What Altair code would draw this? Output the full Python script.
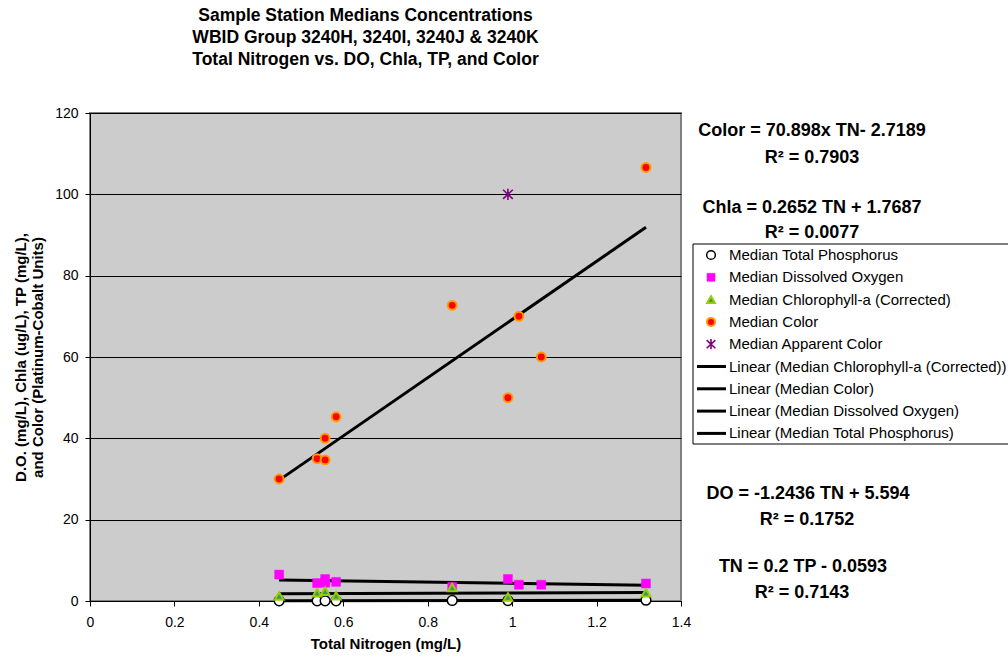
import altair as alt
import pandas as pd

FONT = "Liberation Sans"

# ---------------- data ----------------
tp_tn = [0.448, 0.538, 0.557, 0.583, 0.858, 0.990, 1.317]
tp_val = [0.04, 0.04, 0.06, 0.05, 0.13, 0.12, 0.20]

do_tn = [0.448, 0.538, 0.557, 0.557, 0.583, 0.858, 0.990, 1.016, 1.069, 1.317]
do_val = [6.5, 4.4, 5.4, 4.5, 4.7, 3.5, 5.4, 4.0, 4.0, 4.3]

chla_tn = [0.448, 0.538, 0.557, 0.583, 0.858, 0.990, 1.317]
chla_val = [1.2, 2.0, 2.4, 1.3, 3.3, 1.0, 2.0]

color_tn = [0.448, 0.538, 0.557, 0.557, 0.583, 0.858, 0.990, 1.016, 1.069, 1.317]
color_val = [30.0, 35.0, 40.0, 34.7, 45.3, 72.7, 50.0, 70.0, 60.0, 106.6]

app_tn = [0.990]
app_val = [100.0]

series_names = [
    "Median Total Phosphorus",
    "Median Dissolved Oxygen",
    "Median Chlorophyll-a (Corrected)",
    "Median Color",
    "Median Apparent Color",
]
trend_names = [
    "Linear (Median Chlorophyll-a (Corrected))",
    "Linear (Median Color)",
    "Linear (Median Dissolved Oxygen)",
    "Linear (Median Total Phosphorus)",
]

title_lines = [
    "Sample Station Medians Concentrations",
    "WBID Group 3240H, 3240I, 3240J & 3240K",
    "Total Nitrogen vs. DO, Chla, TP, and Color",
]
x_title = "Total Nitrogen (mg/L)"
y_title = ["D.O. (mg/L), Chla (ug/L), TP (mg/L),", "and Color  (Platinum-Cobalt Units)"]
x_ticks = [0, 0.2, 0.4, 0.6, 0.8, 1.0, 1.2, 1.4]
y_ticks = [0, 20, 40, 60, 80, 100, 120]

eq_texts = [
    "Color = 70.898x TN- 2.7189",
    "R\u00b2 = 0.7903",
    "Chla = 0.2652 TN + 1.7687",
    "R\u00b2 = 0.0077",
    "DO = -1.2436 TN + 5.594",
    "R\u00b2 = 0.1752",
    "TN = 0.2 TP - 0.0593",
    "R\u00b2 = 0.7143",
]

# ---------------- layout / style (pixels) ----------------
W, H = 591, 488
eq_pos = [(722, 18), (722, 45), (722, 95), (722, 120),
          (718, 381), (717, 407), (713, 454), (712, 480)]

star_path = "M0,-1L0,1M-0.85,-0.8L0.85,0.8M-0.85,0.8L0.85,-0.8"
styles = {
    "Median Total Phosphorus": dict(shape="circle", fill="white", stroke="black", strokeWidth=1.5, size=95, filled=True),
    "Median Dissolved Oxygen": dict(shape="square", fill="#FF00FF", stroke="#FF00FF", strokeWidth=0.5, size=80, filled=True),
    "Median Chlorophyll-a (Corrected)": dict(shape="triangle-up", fill="#339966", stroke="#99CC00", strokeWidth=2, size=75, filled=True),
    "Median Color": dict(shape="circle", fill="#FF0000", stroke="#FF9900", strokeWidth=2, size=80, filled=True),
    "Median Apparent Color": dict(shape=star_path, fill=None, stroke="#800080", strokeWidth=1.6, size=130, filled=False),
}


def mk(tn, val):
    return pd.DataFrame({"tn": tn, "val": val})


series_data = {
    "Median Total Phosphorus": mk(tp_tn, tp_val),
    "Median Dissolved Oxygen": mk(do_tn, do_val),
    "Median Chlorophyll-a (Corrected)": mk(chla_tn, chla_val),
    "Median Color": mk(color_tn, color_val),
    "Median Apparent Color": mk(app_tn, app_val),
}
trend_source = {
    "Linear (Median Chlorophyll-a (Corrected))": "Median Chlorophyll-a (Corrected)",
    "Linear (Median Color)": "Median Color",
    "Linear (Median Dissolved Oxygen)": "Median Dissolved Oxygen",
    "Linear (Median Total Phosphorus)": "Median Total Phosphorus",
}

x_enc = alt.X(
    "tn:Q",
    scale=alt.Scale(domain=[0, 1.4], nice=False, zero=False),
    axis=alt.Axis(
        values=x_ticks, format="~g", title=x_title, grid=False, labelFlush=False,
        domainColor="black", domainWidth=1, tickColor="black", tickSize=5,
        labelFont=FONT, labelFontSize=14, labelColor="black", labelPadding=9,
        titleFont=FONT, titleFontSize=15, titleFontWeight="bold", titleColor="black",
        titlePadding=7,
    ),
)
y_enc = alt.Y(
    "val:Q",
    scale=alt.Scale(domain=[0, 120], nice=False),
    axis=alt.Axis(
        values=y_ticks, title=y_title, grid=True, gridColor="black", gridWidth=1,
        labelFlush=False,
        domainColor="black", domainWidth=1, tickColor="black", tickSize=5,
        labelFont=FONT, labelFontSize=14, labelColor="black", labelPadding=7,
        titleFont=FONT, titleFontSize=15, titleFontWeight="bold", titleColor="black",
        titlePadding=9, titleLineHeight=17,
    ),
)

layers = []
# trend lines
for tname in trend_names:
    src = series_data[trend_source[tname]]
    layers.append(
        alt.Chart(src).transform_regression("tn", "val", method="linear")
        .mark_line(color="black", strokeWidth=3)
        .encode(x=x_enc, y=y_enc)
    )
# points
for name in series_names:
    st = styles[name]
    kw = dict(shape=st["shape"], stroke=st["stroke"], strokeWidth=st["strokeWidth"],
              size=st["size"], filled=st["filled"], opacity=1)
    if st["fill"]:
        kw["fill"] = st["fill"]
    layers.append(alt.Chart(series_data[name]).mark_point(**kw).encode(x=x_enc, y=y_enc))

one = alt.Data(values=[{"k": 1}])

# equations
for txt, (px, py) in zip(eq_texts, eq_pos):
    layers.append(
        alt.Chart(one).mark_text(text=txt, font=FONT, fontSize=18, fontWeight="bold",
                                 color="black", align="center", baseline="middle")
        .encode(x=alt.value(px), y=alt.value(py))
    )

# legend box
layers.append(
    alt.Chart(one).mark_rect(fill="white", stroke="black", strokeWidth=1)
    .encode(x=alt.value(603), x2=alt.value(930), y=alt.value(131), y2=alt.value(331))
)
legend_labels = series_names + trend_names
for i, lab in enumerate(legend_labels):
    ry = 142 + i * 22.3
    if lab in styles:
        st = styles[lab]
        kw = dict(shape=st["shape"], stroke=st["stroke"], strokeWidth=st["strokeWidth"],
                  size=st["size"] * 0.8, filled=st["filled"], opacity=1)
        if st["fill"]:
            kw["fill"] = st["fill"]
        layers.append(alt.Chart(one).mark_point(**kw).encode(x=alt.value(621), y=alt.value(ry)))
    else:
        layers.append(
            alt.Chart(one).mark_rule(color="black", strokeWidth=3)
            .encode(x=alt.value(607), x2=alt.value(636), y=alt.value(ry))
        )
    layers.append(
        alt.Chart(one).mark_text(text=lab, font=FONT, fontSize=15, color="black",
                                 align="left", baseline="middle")
        .encode(x=alt.value(639), y=alt.value(ry))
    )

chart = (
    alt.layer(*layers)
    .properties(
        width=W, height=H,
        autosize=alt.AutoSizeParams(type="none"),
        padding={"left": 90, "top": 113, "right": 327, "bottom": 62},
        background="white",
        title=alt.TitleParams(
            text=title_lines, font=FONT, fontSize=17.5, fontWeight="bold", color="black",
            lineHeight=22, anchor="middle", dx=-20, offset=38,
        ),
    )
    .configure_view(fill="#CCCCCC", stroke="#808080", strokeWidth=2)
)

chart.save("out.html", embed_options={"renderer": "svg", "actions": False})
